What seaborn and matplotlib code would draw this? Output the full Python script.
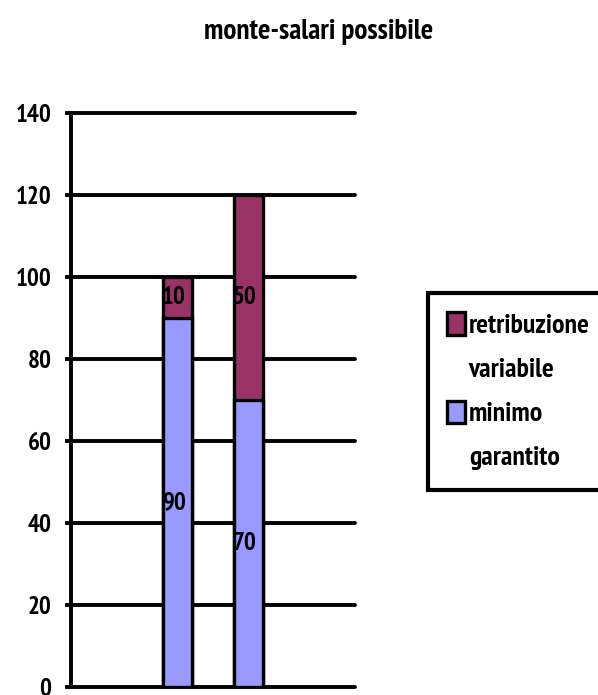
import matplotlib
matplotlib.use('Agg')
import matplotlib.pyplot as plt
import seaborn as sns
import pandas as pd
from matplotlib.patches import Patch

# Data
categories = ['scenario 1', 'scenario 2']
minimo_garantito = [90, 70]
retribuzione_variabile = [10, 50]
legend_lines = ['retribuzione', 'variabile', 'minimo', 'garantito']
yticks = [0, 20, 40, 60, 80, 100, 120, 140]

color_var = '#993366'
color_min = '#9999FF'

sns.set_style('white')
plt.rcParams['font.family'] = ['PT Sans Narrow', 'Liberation Sans', 'DejaVu Sans']
plt.rcParams['font.weight'] = 'bold'
plt.rcParams['text.color'] = 'black'
plt.rcParams['ytick.color'] = 'black'

df = pd.DataFrame({
    'categoria': categories,
    'minimo': minimo_garantito,
    'variabile': retribuzione_variabile,
})
df['totale'] = df['minimo'] + df['variabile']

fig = plt.figure(figsize=(5.98, 6.95), dpi=100)
ax = fig.add_axes([0.1187, 0.0115, 0.4749, 0.8259])

lw = 2.4
# total bar (top segment shows through), then the base segment over it
sns.barplot(data=df, x='categoria', y='totale', color=color_var, saturation=1,
            width=0.41, edgecolor='black', linewidth=lw, ax=ax, zorder=3)
sns.barplot(data=df, x='categoria', y='minimo', color=color_min, saturation=1,
            width=0.41, edgecolor='black', linewidth=lw, ax=ax, zorder=4)

ax.set_xlim(-1.5, 2.5)
ax.set_ylim(0, 140)
ax.set_yticks(yticks)
ax.set_xticks([])
ax.set_xlabel('')
ax.set_ylabel('')
for y in yticks:
    ax.axhline(y, color='black', lw=2.8, zorder=1, clip_on=False)

for s in ['top', 'right', 'bottom']:
    ax.spines[s].set_visible(False)
ax.spines['left'].set_color('black')
ax.spines['left'].set_linewidth(2.8)
ax.tick_params(axis='y', left=True, length=4, width=2.8, color='black',
               labelsize=18, pad=10)

# value labels at segment midpoints
for i, row in df.iterrows():
    ax.text(i - 0.05, row['minimo'] / 2, str(row['minimo']), ha='center',
            va='center', fontsize=18, fontweight='bold', zorder=5)
    ax.text(i - 0.05, row['minimo'] + row['variabile'] / 2, str(row['variabile']),
            ha='center', va='center', fontsize=18, fontweight='bold', zorder=5)

fig.text(0.532, 0.9445, 'monte-salari possibile', ha='center', va='baseline',
         fontsize=21, fontweight='bold')

handles = [Patch(facecolor=color_var, edgecolor='black', linewidth=lw),
           Patch(facecolor='none', edgecolor='none'),
           Patch(facecolor=color_min, edgecolor='black', linewidth=lw),
           Patch(facecolor='none', edgecolor='none')]
leg = fig.legend(handles, legend_lines, loc='upper left',
                 bbox_to_anchor=(0.7157, 0.5784), frameon=True, fancybox=False,
                 framealpha=1, edgecolor='black', fontsize=20,
                 handlelength=0.62, handleheight=0.85, handletextpad=0.15,
                 labelspacing=0.66, borderpad=0.7, borderaxespad=0)
leg.get_frame().set_linewidth(3)
leg.get_frame().set_edgecolor('black')

fig.savefig('out.png', dpi=100)
